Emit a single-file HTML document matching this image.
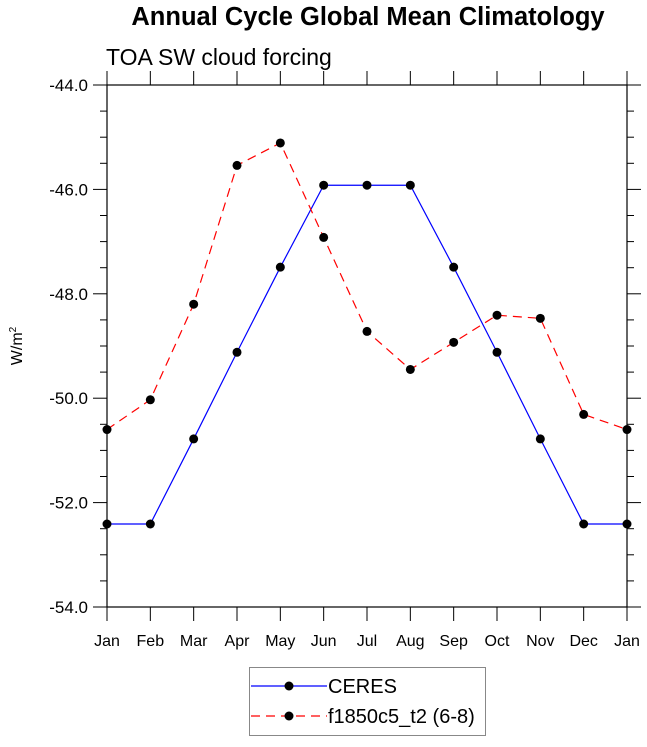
<!DOCTYPE html>
<html><head><meta charset="utf-8"><style>
body{margin:0;background:#fff;font-family:"Liberation Sans",sans-serif;}
</style></head><body>
<svg width="647" height="742" xmlns="http://www.w3.org/2000/svg" font-family="Liberation Sans, sans-serif">
<text x="368" y="25" text-anchor="middle" font-size="25.5" font-weight="bold">Annual Cycle Global Mean Climatology</text>
<text x="106" y="65" font-size="23">TOA SW cloud forcing</text>
<text transform="translate(22,346) rotate(-90)" text-anchor="middle" font-size="16">W/m<tspan dy="-6" font-size="10">2</tspan></text>
<g id="axes"></g>
<g id="series"></g>
<g>
<rect x="249.5" y="667.5" width="236" height="68" fill="#fff" stroke="#888"/>
<g>
<line x1="251" y1="686" x2="327" y2="686" stroke="#0000ff" stroke-width="1.2"/>
<circle cx="289" cy="686" r="4.5" fill="#000"/>
<text x="328" y="693" font-size="20">CERES</text></g>
<g>
<line x1="251" y1="716" x2="327" y2="716" stroke="#ff0000" stroke-width="1.2" stroke-dasharray="9,6"/>
<circle cx="289" cy="716" r="4.5" fill="#000"/>
<text x="328" y="723" font-size="20">f1850c5_t2 (6-8)</text></g>
</g>
</svg>
<script>
const months=["Jan","Feb","Mar","Apr","May","Jun","Jul","Aug","Sep","Oct","Nov","Dec","Jan"];
const ceres=[-52.41,-52.41,-50.78,-49.12,-47.49,-45.92,-45.92,-45.92,-47.49,-49.12,-50.78,-52.41,-52.41];
const model=[-50.60,-50.03,-48.20,-45.54,-45.11,-46.92,-48.72,-49.45,-48.93,-48.41,-48.47,-50.31,-50.60];
const yTicks=[-54,-52,-50,-48,-46,-44];
const NS="http://www.w3.org/2000/svg";
const L=107,R=627,T=85,B=607,ymin=-54,ymax=-44;
const xs=i=>L+(R-L)*i/(months.length-1);
const ys=v=>B-(v-ymin)/(ymax-ymin)*(B-T);
function mk(tag,attrs,parent){const e=document.createElementNS(NS,tag);for(const k in attrs)e.setAttribute(k,attrs[k]);parent.appendChild(e);return e;}
const ax=document.getElementById('axes');
const frame=mk('rect',{x:L,y:T,width:R-L,height:B-T,fill:'none',stroke:'#000','stroke-width':1.2},ax);


for(let v=ymin;v<=ymax+1e-9;v+=0.5){const y=ys(v);const major=Math.abs(v-Math.round(v/2)*2)<1e-6;const len=major?14:7;
mk('line',{x1:L-len,y1:y,x2:L,y2:y,stroke:'#000'},ax);mk('line',{x1:R,y1:y,x2:R+len,y2:y,stroke:'#000'},ax);}
yTicks.forEach(v=>{const t=mk('text',{x:L-19,y:ys(v)+6,'text-anchor':'end','font-size':17},ax);t.textContent=v.toFixed(1);

});
months.forEach((m,i)=>{const x=xs(i);mk('line',{x1:x,y1:B,x2:x,y2:B+14,stroke:'#000'},ax);mk('line',{x1:x,y1:T-14,x2:x,y2:T,stroke:'#000'},ax);
const t=mk('text',{x:x,y:B+39,'text-anchor':'middle','font-size':16},ax);t.textContent=m;

});
const sg=document.getElementById('series');
function draw(vals,color,dash,name){const g=mk('g',{},sg);


const pts=vals.map((v,i)=>xs(i)+','+ys(v)).join(' ');
const a={points:pts,fill:'none',stroke:color,'stroke-width':1.2};if(dash)a['stroke-dasharray']=dash;mk('polyline',a,g);
vals.forEach((v,i)=>{const c=mk('circle',{cx:xs(i),cy:ys(v),r:4.5,fill:'#000'},g);

});}
draw(ceres,'#0000ff',null,'series-ceres');
draw(model,'#ff0000','9,6','series-model');
</script>
</body></html>
